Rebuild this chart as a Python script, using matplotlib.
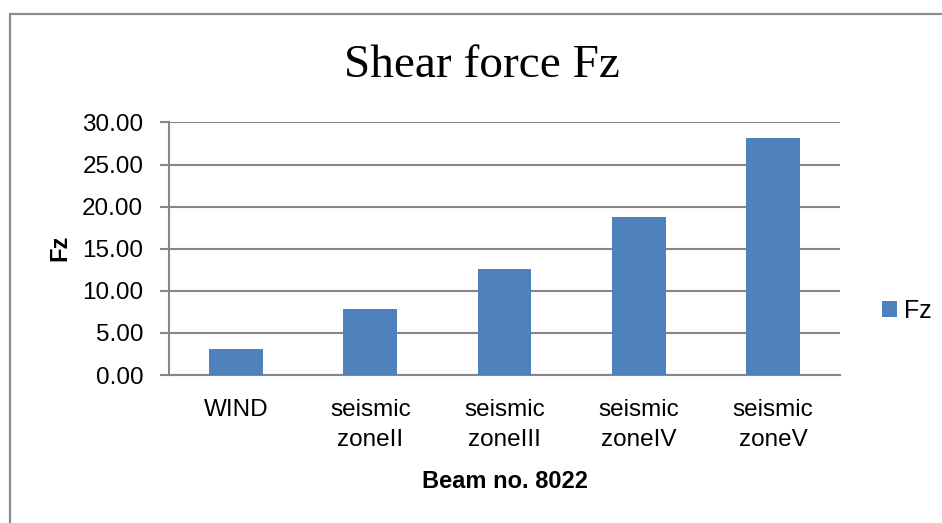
import matplotlib
matplotlib.use("Agg")
import matplotlib.pyplot as plt
import numpy as np
from matplotlib.patches import Rectangle

# === Data ===
categories = ["WIND", "seismic\nzoneII", "seismic\nzoneIII", "seismic\nzoneIV", "seismic\nzoneV"]
fz_values = [3.12, 7.84, 12.55, 18.76, 28.10]
y_ticks = [0, 5, 10, 15, 20, 25, 30]

# === Style ===
BAR_COLOR = "#4F81BD"
GRID_COLOR = "#868686"
SANS = ["Liberation Sans", "DejaVu Sans"]
SERIF = ["Liberation Serif", "DejaVu Serif"]

W, H = 942, 523
fig = plt.figure(figsize=(W / 100, H / 100), dpi=100)

# chart area border (cut off at right/bottom like the screenshot)
fig.patches.append(Rectangle((10 / W, -0.05), 1.2, 1 - 13.5 / H + 0.05,
                             transform=fig.transFigure, fill=False,
                             edgecolor="#8c8c8c", linewidth=1.6))

ax = fig.add_axes([169 / W, 1 - 375 / H, 671 / W, 252.5 / H])
x = np.arange(len(categories))
bars = ax.bar(x, fz_values, width=0.40, color=BAR_COLOR, label="Fz", zorder=3)

ax.set_xlim(-0.5, len(categories) - 0.5)
ax.set_ylim(0, 30)
ax.set_yticks(y_ticks)
ax.set_yticklabels([f"{v:.2f}" for v in y_ticks], fontfamily=SANS, fontsize=17.5)
ax.set_xticks(x)
ax.set_xticklabels(categories, fontfamily=SANS, fontsize=17.5, linespacing=1.47)

ax.grid(axis="y", color=GRID_COLOR, linewidth=1.5, zorder=0)
for side in ["top", "right"]:
    ax.spines[side].set_visible(False)
for side in ["left", "bottom"]:
    ax.spines[side].set_color(GRID_COLOR)
    ax.spines[side].set_linewidth(1.5)
ax.tick_params(axis="y", length=6.5, width=1.5, color=GRID_COLOR, pad=12)
ax.tick_params(axis="x", length=0, pad=17.5)

# titles / labels
fig.text(482 / W, 1 - 66 / H, "Shear force Fz", fontfamily=SERIF, fontsize=34,
         ha="center", va="center")
fig.text(60 / W, 1 - 248 / H, "Fz", fontfamily=SANS, fontsize=17, fontweight="bold",
         rotation=90, ha="center", va="center")
fig.text(505 / W, 1 - 482 / H, "Beam no. 8022", fontfamily=SANS, fontsize=17,
         fontweight="bold", ha="center", va="center")

fig.legend(handles=[bars], labels=["Fz"], loc="center left",
           bbox_to_anchor=(882 / W, 1 - 311 / H), frameon=False,
           prop={"family": SANS, "size": 18}, handlelength=0.6, handleheight=0.6,
           handletextpad=0.3, borderpad=0, borderaxespad=0)

fig.savefig("out.png", dpi=100)
